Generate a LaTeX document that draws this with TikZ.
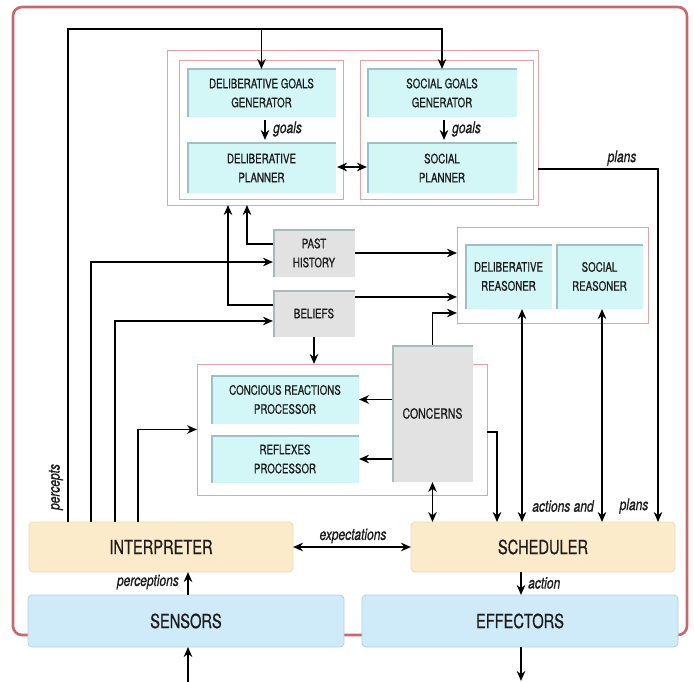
\documentclass[tikz,border=0pt]{standalone}
\usepackage{fontspec}
\setmainfont{TeX Gyre Heros}[FakeStretch=0.75,FakeBold=0.7]
\usetikzlibrary{arrows.meta,calc}
\definecolor{outerred}{HTML}{C9676B}
\definecolor{pinkline}{HTML}{E6A2A4}
\definecolor{cyanfill}{HTML}{D3F7F7}
\definecolor{cyanedge}{HTML}{9DBFC6}
\definecolor{grayfill}{HTML}{E2E2E2}
\definecolor{grayedge}{HTML}{A8B9C2}
\definecolor{yelfill}{HTML}{FBEBCA}
\definecolor{yeledge}{HTML}{E9DCBC}
\definecolor{bluefill}{HTML}{CFEBF9}
\definecolor{blueedge}{HTML}{B3D2E2}
\definecolor{txt}{HTML}{1C1C1C}
\newcommand\bxf{\fontsize{13}{19}\selectfont}
\newcommand\bgf{\fontsize{19.5}{22}\selectfont}
\newcommand\lbf{\fontsize{16}{18}\selectfont\itshape}
\begin{document}
\begin{tikzpicture}[x=1pt,y=-1pt,
  cbox/.style={fill=cyanfill, inner sep=0pt, outer sep=0pt, align=center, font=\bxf, text=txt,
    path picture={\draw[cyanedge,line width=3pt] (path picture bounding box.south west) |- (path picture bounding box.north east);}},
  gbox/.style={fill=grayfill, inner sep=0pt, outer sep=0pt, align=center, font=\bxf, text=txt,
    path picture={\draw[grayedge,line width=3pt] (path picture bounding box.south west) |- (path picture bounding box.north east);}},
  pbox/.style={draw=pinkline, line width=0.9pt, inner sep=0pt, outer sep=0pt},
  ybox/.style={fill=yelfill, draw=yeledge, line width=0.8pt, rounded corners=4pt, inner sep=0pt, outer sep=0pt, font=\bgf, text=txt},
  bbox/.style={fill=bluefill, draw=blueedge, line width=0.8pt, rounded corners=4pt, inner sep=0pt, outer sep=0pt, font=\bgf, text=txt},
  conn/.style={draw=black, line width=1.7pt},
  arr/.style={conn, -{Stealth[length=10pt,width=8.5pt]}},
  darr/.style={conn, {Stealth[length=10pt,width=8.5pt]}-{Stealth[length=10pt,width=8.5pt]}},
  lbl/.style={font=\lbf, text=txt, inner sep=1pt}
]
\useasboundingbox (0,0) rectangle (694,682);
% outer frame
\draw[outerred, line width=2.6pt, rounded corners=9pt] (13,7) rectangle (687,635);

% goals group
\node[pbox, minimum width=371, minimum height=155] (goalsbox) at (352.5,127.5) {};
\node[pbox, minimum width=164, minimum height=139] (dgbox) at (261,129.5) {};
\node[pbox, minimum width=173, minimum height=139] (sgbox) at (446.5,129.5) {};
\node[cbox, minimum width=149, minimum height=48] (dgg) at (261.5,93) {DELIBERATIVE GOALS\\GENERATOR};
\node[cbox, minimum width=149, minimum height=50] (dp) at (261.5,168) {DELIBERATIVE\\PLANNER};
\node[cbox, minimum width=150, minimum height=48] (sgg) at (442,93) {SOCIAL GOALS\\GENERATOR};
\node[cbox, minimum width=150, minimum height=50] (sp) at (442,168) {SOCIAL\\PLANNER};

% history / beliefs
\node[gbox, minimum width=82, minimum height=48] (past) at (314,253) {PAST\\HISTORY};
\node[gbox, minimum width=82, minimum height=47] (beliefs) at (314,313.5) {BELIEFS};

% reasoners
\node[pbox, minimum width=191, minimum height=96] (reasbox) at (552.5,275) {};
\node[cbox, minimum width=87, minimum height=65] (dr) at (508.5,276.5) {DELIBERATIVE\\REASONER};
\node[cbox, minimum width=87, minimum height=65] (sr) at (599.5,276.5) {SOCIAL\\REASONER};

% reactions
\node[pbox, minimum width=290, minimum height=131] (reactbox) at (342,429.5) {};
\node[cbox, minimum width=148, minimum height=49] (crp) at (285,399.5) {CONCIOUS REACTIONS\\PROCESSOR};
\node[cbox, minimum width=148, minimum height=48] (rp) at (285,459) {REFLEXES\\PROCESSOR};
\node[gbox, minimum width=81, minimum height=137, font=\fontsize{14}{16}\selectfont] (concerns) at (432.5,413.5) {CONCERNS};

% bottom
\node[ybox, minimum width=264, minimum height=50] (interp) at (161,547) {INTERPRETER};
\node[ybox, minimum width=264, minimum height=50] (sched) at (543,547) {SCHEDULER};
\node[bbox, minimum width=316, minimum height=52] (sensors) at (186,621) {SENSORS};
\node[bbox, minimum width=316, minimum height=52] (effectors) at (520,621) {EFFECTORS};

% coordinates
\coordinate (ptop) at (68,29);
\coordinate (sin) at (188,682);
\coordinate (eout) at (521,681);

% percepts
\draw[arr] (interp.north -| ptop) -- (ptop) -| (sgg.north);
\draw[arr] (dgg.north |- ptop) -- (dgg.north);
\node[lbl, rotate=90] (percl) at (56,487) {percepts};

% interpreter outputs
\draw[arr] (91,0 |- interp.north) |- ($(past.west)+(0,9)$);
\draw[arr] (115,0 |- interp.north) |- ($(beliefs.west)+(0,7.5)$);
\draw[arr] (138,0 |- interp.north) |- (reactbox.west);

% history/beliefs to goals
\draw[arr] ($(past.west)+(0,-9)$) -| (247,0 |- goalsbox.south);
\draw[arr] ($(beliefs.west)+(0,-8.5)$) -| (228,0 |- goalsbox.south);

% to reasoners
\draw[arr] (past.east) -- (reasbox.west |- past.east);
\draw[arr] ($(beliefs.east)+(0,-16.5)$) -- (reasbox.west |- 0,297);
\draw[arr] (concerns.north) |- (reasbox.west |- 0,313);

% beliefs to reactions
\draw[arr] (beliefs.south) -- (beliefs.south |- reactbox.north);

% concerns to processors
\draw[arr] (concerns.west |- crp.east) -- (crp.east);
\draw[arr] (concerns.west |- rp.east) -- (rp.east);

% to scheduler
\draw[arr] (reactbox.east |- 0,432) -| (497,0 |- sched.north);
\draw[darr] (concerns.south) -- (concerns.south |- sched.north);
\draw[darr] (522,0 |- dr.south) -- (522,0 |- sched.north);
\draw[darr] (602,0 |- sr.south) -- (602,0 |- sched.north);
\draw[arr] (goalsbox.east |- 0,169) -| (658,0 |- sched.north);
\node[lbl] (plansl1) at (622,158) {plans};
\node[lbl] (actl) at (563,506) {actions and};
\node[lbl] (plansl2) at (634,506) {plans};

% goals internal
\draw[arr, shorten <=3pt, shorten >=3pt] (dgg.south -| 265,0) -- (dp.north -| 265,0);
\node[lbl, anchor=west] (g1) at (272,129) {goals};
\draw[arr, shorten <=3pt, shorten >=3pt] (sgg.south -| 444,0) -- (sp.north -| 444,0);
\node[lbl, anchor=west] (g2) at (451,129) {goals};
\draw[darr] ($(dp.east)+(1,-1)$) -- ($(sp.west)+(0,-1)$);

% bottom connections
\draw[darr] (interp.east) -- (sched.west);
\node[lbl] (expl) at (353,536) {expectations};
\draw[arr] (188,0 |- sensors.north) -- (188,0 |- interp.south);
\node[lbl, anchor=east] (percl2) at (180,582) {perceptions};
\draw[arr] (sin) -- (188,0 |- sensors.south);
\draw[arr] (521,0 |- sched.south) -- (521,0 |- effectors.north);
\node[lbl, anchor=west] (actionl) at (527,583) {action};
\draw[arr] (521,0 |- effectors.south) -- (eout);
\end{tikzpicture}
\end{document}
